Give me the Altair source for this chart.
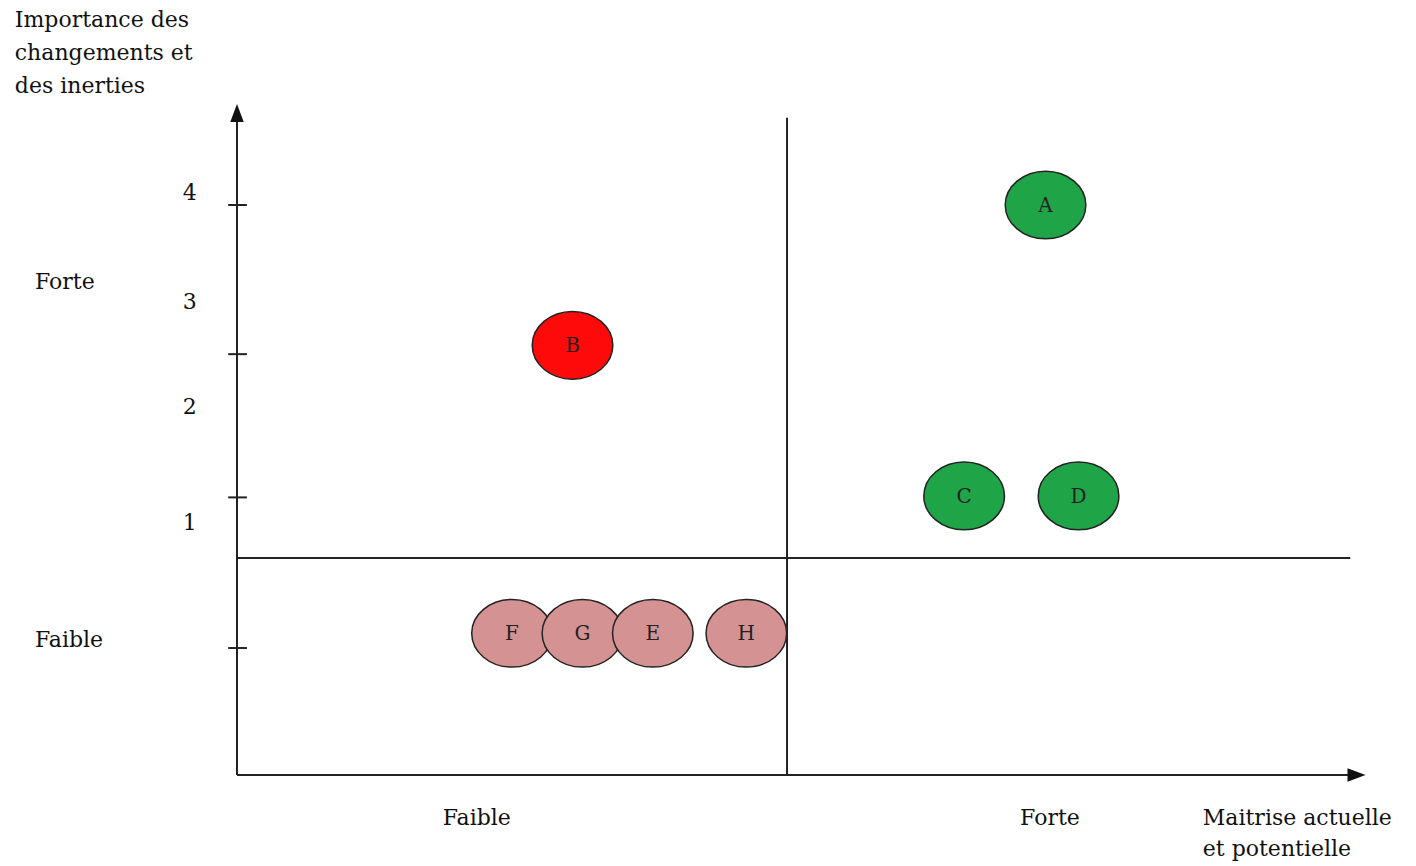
import altair as alt
import pandas as pd

# --- data (in chart units: x = maîtrise, y = importance) ---
names = ["A", "B", "C", "D", "F", "G", "E", "H"]
xs = [7.35, 3.05, 6.61, 7.65, 2.50, 3.14, 3.78, 4.63]
ys = [4.00, 3.05, 2.03, 2.03, 1.10, 1.10, 1.10, 1.10]
groups = ["forte", "critique", "forte", "forte", "faible", "faible", "faible", "faible"]
group_colors = {"forte": "#1fa548", "critique": "#ff0a0a", "faible": "#d49292"}

tick_vals = [4.0, 2.99, 2.02, 1.0]
tick_label_text = ["4", "3", "2", "1"]
tick_label_y = [4.08, 3.34, 2.63, 1.85]

axis_y0 = 0.14
x_div = 5.0
y_div = 1.61

XDOM = [-2.0818, 10.645]
YDOM = [-0.476, 5.334]
FONT = "DejaVu Serif"

xs_scale = alt.Scale(domain=XDOM, nice=False, zero=False)
ys_scale = alt.Scale(domain=YDOM, nice=False, zero=False)

def X(f="x"):
    return alt.X(f, type="quantitative", scale=xs_scale, axis=None)

def Y(f="y"):
    return alt.Y(f, type="quantitative", scale=ys_scale, axis=None)

# lines (axes + quadrant dividers + ticks)
segs = pd.DataFrame({
    "x":  [0.0, 0.0, x_div, 0.0] + [-0.08] * 4,
    "x2": [0.0, 10.16, x_div, 10.12] + [0.09] * 4,
    "y":  [axis_y0, axis_y0, axis_y0, y_div] + tick_vals,
    "y2": [4.62, axis_y0, 4.59, y_div] + tick_vals,
})
lines = alt.Chart(segs).mark_rule(color="#222222", strokeWidth=2).encode(
    x=X("x"), x2="x2", y=Y("y"), y2="y2"
)

arrows_up = alt.Chart(pd.DataFrame({"x": [0.0], "y": [4.623]})).mark_point(
    shape="M 0 -1 L 0.75 1 L -0.75 1 Z", size=324, filled=True, color="#111111", opacity=1
).encode(x=X(), y=Y())
arrows_right = alt.Chart(pd.DataFrame({"x": [10.177], "y": [axis_y0]})).mark_point(
    shape="M 1 0 L -1 0.75 L -1 -0.75 Z", size=324, filled=True, color="#111111", opacity=1
).encode(x=X(), y=Y())

pts = pd.DataFrame({"name": names, "x": xs, "y": ys, "g": groups})
ellipses = alt.Chart(pts).mark_point(
    shape="M -1 0 A 1 0.84 0 1 1 1 0 A 1 0.84 0 1 1 -1 0 Z",
    size=6500, filled=True, opacity=1, stroke="#222222", strokeWidth=1.5,
).encode(
    x=X(), y=Y(),
    fill=alt.Fill("g:N", scale=alt.Scale(domain=list(group_colors.keys()),
                                          range=list(group_colors.values())), legend=None),
)
letters = alt.Chart(pts).mark_text(font=FONT, fontSize=20, color="#222222", baseline="middle", dy=1).encode(
    x=X(), y=Y(), text="name:N"
)

tick_labels = alt.Chart(pd.DataFrame({"x": [-0.43] * 4, "y": tick_label_y, "t": tick_label_text})).mark_text(
    font=FONT, fontSize=22, color="#111111", baseline="middle", align="center"
).encode(x=X(), y=Y(), text="t:N")

left_text = pd.DataFrame({
    "x": [-2.02, -2.02, -2.02, -1.836, -1.836, 8.78, 8.78],
    "y": [5.252, 5.030, 4.806, 3.48, 1.054, -0.151, -0.360],
    "t": ["Importance des", "changements et", "des inerties", "Forte", "Faible",
          "Maitrise actuelle", "et potentielle"],
})
left_labels = alt.Chart(left_text).mark_text(
    font=FONT, fontSize=22, color="#111111", baseline="middle", align="left"
).encode(x=X(), y=Y(), text="t:N")

center_text = pd.DataFrame({"x": [2.18, 7.39], "y": [-0.151, -0.151], "t": ["Faible", "Forte"]})
center_labels = alt.Chart(center_text).mark_text(
    font=FONT, fontSize=22, color="#111111", baseline="middle", align="center"
).encode(x=X(), y=Y(), text="t:N")

chart = alt.layer(
    lines, arrows_up, arrows_right, ellipses, letters, tick_labels, left_labels, center_labels
).properties(
    width=1400, height=858, padding=0, autosize=alt.AutoSizeParams(type="none"),
    background="white",
).configure_view(stroke=None)

chart.save("out.html", embed_options={"renderer": "svg", "actions": False})
